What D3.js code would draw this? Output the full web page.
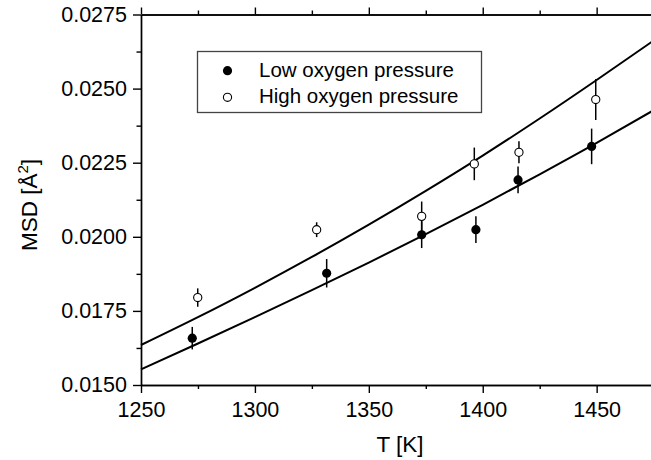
<!DOCTYPE html>
<html>
<head>
<meta charset="utf-8">
<script src="https://cdn.jsdelivr.net/npm/d3@7"></script>
<style>
body { margin: 0; background: #fff; }
text { font-family: "Liberation Sans", Arial, sans-serif; fill: #000; }
</style>
</head>
<body>
<div></div>
<script>
var w = 651;
var h = 460;

// measured points
var lowT   = [1272.5, 1331.5, 1373.2, 1397.0, 1415.5, 1447.8];
var lowMSD = [0.01658, 0.01877, 0.02007, 0.02024, 0.02192, 0.02305];
var lowErr = [0.00038, 0.00048, 0.00045, 0.00045, 0.00045, 0.00060];

var highT   = [1274.9, 1327.1, 1373.2, 1396.3, 1415.9, 1449.6];
var highMSD = [0.01795, 0.02024, 0.02069, 0.02246, 0.02285, 0.02463];
var highErr = [0.00031, 0.00025, 0.00050, 0.00055, 0.00037, 0.00069];

// fitted curves
var fitT    = [1250, 1275, 1300, 1325, 1350, 1375, 1400, 1425, 1450, 1475];
var fitHigh = [0.01635, 0.01729, 0.01828, 0.01932, 0.02041, 0.02155, 0.02274, 0.02399, 0.02529, 0.02662];
var fitLow  = [0.01553, 0.01640, 0.01729, 0.01820, 0.01913, 0.02009, 0.02108, 0.02211, 0.02317, 0.02427];

var xTicks = [1250, 1300, 1350, 1400, 1450];
var xMinor = [1275, 1325, 1375, 1425, 1475];
var yTicks = [0.0150, 0.0175, 0.0200, 0.0225, 0.0250, 0.0275];
var yMinor = [0.01625, 0.01875, 0.02125, 0.02375, 0.02625];

var legendLabels = ["Low oxygen pressure", "High oxygen pressure"];

var svg = d3.select("div").append("svg")
	.attr("width", w)
	.attr("height", h);

var x = d3.scaleLinear().domain([1250, 1475]).range([141, 653.6]);
var y = d3.scaleLinear().domain([0.0150, 0.0275]).range([385, 14.5]);

//fit curves
var line = d3.line()
	.x(function(d) { return x(d[0]); })
	.y(function(d) { return y(d[1]); })
	.curve(d3.curveNatural);

[fitHigh, fitLow].forEach(function(f) {
	svg.append("path")
		.datum(fitT.map(function(t, i) { return [t, f[i]]; }))
		.attr("d", line)
		.attr("fill", "none")
		.attr("stroke", "#000")
		.attr("stroke-width", 2);
});

//axes
function styleAxis(g) {
	g.selectAll("path, line").attr("stroke", "#000").attr("stroke-width", 1.4);
	g.selectAll("text").style("font-size", "21.5px");
}

svg.append("g")
	.attr("transform", "translate(0,385)")
	.call(d3.axisBottom(x).tickValues(xTicks).tickSize(8).tickSizeOuter(0).tickPadding(9).tickFormat(d3.format("d")))
	.call(styleAxis);
svg.append("g")
	.attr("transform", "translate(0,385)")
	.call(d3.axisBottom(x).tickValues(xMinor).tickSize(4).tickSizeOuter(0).tickFormat(""))
	.call(styleAxis);

svg.append("g")
	.attr("transform", "translate(0,14.5)")
	.call(d3.axisTop(x).tickValues(xTicks).tickSize(7).tickSizeOuter(0).tickFormat(""))
	.call(styleAxis);
svg.append("g")
	.attr("transform", "translate(0,14.5)")
	.call(d3.axisTop(x).tickValues(xMinor).tickSize(4).tickSizeOuter(0).tickFormat(""))
	.call(styleAxis);

svg.append("g")
	.attr("transform", "translate(141,0)")
	.call(d3.axisLeft(y).tickValues(yTicks).tickSize(8).tickSizeOuter(0).tickPadding(6).tickFormat(d3.format(".4f")))
	.call(styleAxis);
svg.append("g")
	.attr("transform", "translate(141,0)")
	.call(d3.axisLeft(y).tickValues(yMinor).tickSize(4.5).tickSizeOuter(0).tickFormat(""))
	.call(styleAxis);

svg.append("g")
	.attr("transform", "translate(653.6,0)")
	.call(d3.axisRight(y).tickValues(yTicks).tickSize(8).tickSizeOuter(0).tickFormat(""))
	.call(styleAxis);

//axis titles
svg.append("text")
	.attr("x", 400)
	.attr("y", 451.5)
	.attr("text-anchor", "middle")
	.style("font-size", "22.5px")
	.text("T [K]");

var ytitle = svg.append("text")
	.attr("transform", "translate(36.5,205) rotate(-90)")
	.attr("text-anchor", "middle")
	.style("font-size", "22.5px");
ytitle.append("tspan").text("MSD [Å");
ytitle.append("tspan").attr("dy", -9).style("font-size", "15px").text("2");
ytitle.append("tspan").attr("dy", 9).text("]");

//error bars + points
function drawSeries(ts, vs, es, filled) {
	var g = svg.append("g");
	g.selectAll("line.err")
		.data(ts)
		.enter()
		.append("line")
		.attr("class", "err")
		.attr("x1", function(d) { return x(d); })
		.attr("x2", function(d) { return x(d); })
		.attr("y1", function(d, i) { return y(vs[i] - es[i]); })
		.attr("y2", function(d, i) { return y(vs[i] + es[i]); })
		.attr("stroke", "#000")
		.attr("stroke-width", 1.5);
	g.selectAll("circle")
		.data(ts)
		.enter()
		.append("circle")
		.attr("cx", function(d) { return x(d); })
		.attr("cy", function(d, i) { return y(vs[i]); })
		.attr("r", filled ? 4.6 : 4.1)
		.attr("fill", filled ? "#000" : "#fff")
		.attr("stroke", "#000")
		.attr("stroke-width", filled ? 0 : 1.1);
}
drawSeries(lowT, lowMSD, lowErr, true);
drawSeries(highT, highMSD, highErr, false);

//legend
var leg = svg.append("g");
leg.append("rect")
	.attr("x", 197.5)
	.attr("y", 51.5)
	.attr("width", 284)
	.attr("height", 61)
	.attr("fill", "#fff")
	.attr("stroke", "#444")
	.attr("stroke-width", 1.3);

legendLabels.forEach(function(l, i) {
	leg.append("circle")
		.attr("cx", 227.5)
		.attr("cy", 70.7 + i * 26.6)
		.attr("r", i == 0 ? 4.6 : 4.1)
		.attr("fill", i == 0 ? "#000" : "#fff")
		.attr("stroke", "#000")
		.attr("stroke-width", i == 0 ? 0 : 1.1);
	leg.append("text")
		.attr("x", 259)
		.attr("y", 76.5 + i * 26.8)
		.style("font-size", "20.5px")
		.text(l);
});
</script>
</body>
</html>
